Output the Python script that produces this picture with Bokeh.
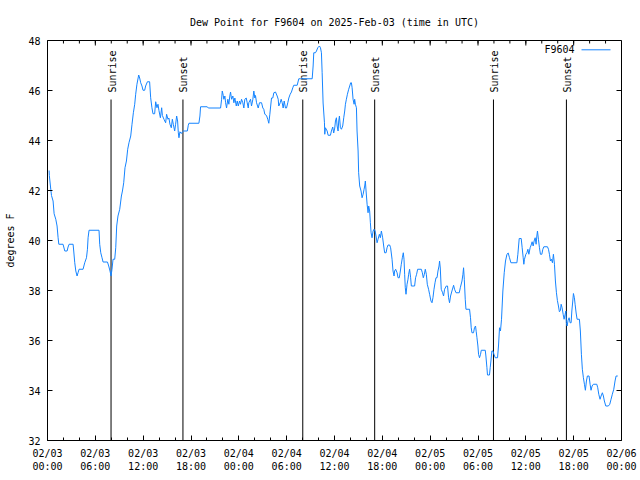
import math
from bokeh.plotting import figure
from bokeh.models import Range1d, FixedTicker, LinearAxis, Label
from bokeh.core.properties import value
from bokeh.embed import file_html
from bokeh.resources import INLINE

# ---------------- data ----------------
title_text = "Dew Point for F9604 on 2025-Feb-03 (time in UTC)"
series_name = "F9604"
y_label = "degrees F"

# hours since 2025-02-03 00:00 UTC
hours = [
    0.20, 0.23, 0.41, 0.50, 0.70, 0.83, 1.04, 1.20, 1.33, 1.42, 1.95, 2.04, 2.17, 2.46, 2.58, 2.71,
    3.21, 3.29, 3.42, 3.55, 3.71, 3.83, 3.96, 4.46, 4.67, 4.89, 5.01, 5.09, 5.21, 6.46, 6.55, 6.68,
    6.84, 6.97, 7.52, 7.68, 7.84, 7.97, 8.09, 8.22, 8.43, 8.56, 8.68, 8.84, 9.06, 9.27, 9.40, 9.56,
    9.72, 9.90, 10.06, 10.22, 10.44, 10.60, 10.77, 10.94, 11.06, 11.22, 11.44, 11.56, 11.69, 11.85,
    11.98, 12.19, 12.31, 12.53, 12.81, 12.94, 13.10, 13.23, 13.44, 13.57, 13.73, 13.86, 13.98, 14.16,
    14.19, 14.32, 14.41, 14.61, 14.82, 14.94, 15.11, 15.23, 15.36, 15.53, 15.66, 15.78, 15.95, 16.07,
    16.20, 16.32, 16.41, 16.49, 16.61, 16.79, 16.91, 17.04, 17.54, 17.66, 17.74, 18.99, 19.12, 19.20,
    20.04, 20.17, 21.71, 21.84, 21.92, 22.05, 22.12, 22.25, 22.34, 22.46, 22.62, 22.75, 22.87, 22.96,
    23.09, 23.25, 23.38, 23.50, 23.68, 23.80, 23.93, 24.09, 24.21, 24.34, 24.50, 24.63, 24.75, 24.93,
    25.05, 25.18, 25.25, 25.47, 25.59, 25.76, 25.88, 26.01, 26.09, 26.22, 26.43, 26.59, 26.85, 27.01,
    27.13, 27.26, 27.47, 27.63, 27.76, 27.89, 27.97, 28.10, 28.26, 28.39, 28.60, 28.81, 28.94, 29.01,
    29.19, 29.31, 29.44, 29.56, 29.69, 29.85, 29.98, 30.14, 30.27, 30.44, 30.60, 30.77, 30.89, 31.32,
    31.52, 31.73, 33.20, 33.32, 33.40, 33.61, 33.74, 33.90, 34.11, 34.24, 34.36, 34.45, 34.57, 34.74,
    34.78, 34.86, 35.08, 35.20, 35.49, 35.61, 35.78, 35.90, 36.03, 36.12, 36.24, 36.33, 36.45, 36.53,
    36.62, 36.74, 36.87, 37.03, 37.16, 37.28, 37.37, 37.49, 37.62, 37.78, 37.91, 38.03, 38.12, 38.21,
    38.33, 38.46, 38.53, 38.62, 38.75, 38.83, 38.96, 39.03, 39.16, 39.33, 39.46, 39.59, 39.71, 39.79,
    39.87, 39.96, 40.09, 40.21, 40.29, 40.41, 40.50, 40.59, 40.71, 40.84, 40.96, 41.09, 41.21, 41.34,
    41.46, 41.63, 41.75, 41.88, 42.04, 42.17, 42.29, 42.47, 42.59, 42.72, 42.92, 43.04, 43.22, 43.34,
    43.47, 43.54, 43.67, 43.85, 43.97, 44.13, 44.26, 44.38, 44.51, 44.63, 44.72, 44.80, 44.88, 44.97,
    45.10, 45.22, 45.30, 45.42, 45.55, 45.64, 46.05, 46.17, 46.30, 46.43, 46.89, 47.02, 47.14, 47.27,
    47.39, 47.52, 47.64, 47.80, 47.93, 48.10, 48.23, 48.35, 48.48, 48.61, 48.73, 48.86, 48.98, 49.11,
    49.18, 49.27, 49.39, 49.56, 49.68, 49.81, 50.02, 50.18, 50.31, 50.43, 50.56, 50.73, 50.94, 51.06,
    51.24, 51.65, 51.78, 51.99, 52.11, 52.19, 52.28, 52.40, 52.49, 52.94, 53.06, 53.15, 53.24, 53.44,
    53.56, 53.69, 53.78, 53.87, 53.99, 54.07, 54.19, 54.32, 54.41, 54.91, 54.99, 55.12, 55.19, 55.44,
    55.53, 55.62, 55.74, 55.87, 56.00, 56.16, 56.45, 56.57, 56.70, 56.82, 56.95, 57.12, 57.29, 57.45,
    57.63, 57.79, 57.95, 58.13, 58.88, 59.00, 59.17, 59.42, 59.54, 59.67, 59.75, 59.83, 60.00, 60.13,
    60.26, 60.38, 60.54, 60.67, 60.79, 60.92, 61.04, 61.17, 61.29, 61.38, 61.46, 61.58, 61.71, 61.83,
    62.01, 62.13, 62.26, 62.71, 62.84, 62.96, 63.09, 63.21, 63.34, 63.46, 63.59, 63.71, 63.84, 63.96,
    64.09, 64.21, 64.34, 64.43, 64.55, 64.68, 64.80, 64.93, 65.02, 65.09, 65.18, 65.30, 65.43, 65.55,
    65.68, 65.77, 65.89, 65.97, 66.09, 66.18, 66.31, 66.43, 66.72, 66.84, 66.97, 67.09, 67.22, 67.35,
    67.47, 67.60, 67.72, 67.93, 68.06, 68.18, 68.31, 68.47, 68.90, 69.02, 69.15, 69.31, 69.44, 69.60,
    69.73, 69.85, 70.03, 70.35, 70.53, 70.69, 70.85, 71.03, 71.19, 71.32, 71.53,
]

dew_point_f = [
    42.80, 42.60, 42.05, 41.80, 41.58, 41.07, 40.85, 40.58, 40.11, 39.85, 39.85, 39.74, 39.58, 39.58, 39.74, 39.85,
    39.85, 39.58, 39.11, 38.78, 38.58, 38.71, 38.85, 38.85, 39.11, 39.31, 39.65, 40.11, 40.41, 40.41, 39.85, 39.51,
    39.31, 39.14, 39.14, 38.98, 38.78, 38.58, 38.85, 39.25, 39.25, 39.71, 40.58, 40.98, 41.25, 41.78, 41.98, 42.31,
    42.91, 43.18, 43.65, 43.91, 44.18, 44.65, 45.11, 45.45, 45.85, 46.25, 46.62, 46.50, 46.31, 46.18,
    46.01, 46.01, 46.18, 46.35, 46.35, 45.71, 45.31, 45.07, 45.07, 45.55, 45.31, 45.45, 45.20, 44.91,
    44.98, 45.31, 45.00, 44.85, 44.71, 45.05, 44.85, 44.90, 44.65, 44.51, 44.85, 44.65, 44.38, 44.65,
    44.98, 44.78, 44.31, 44.11, 44.35, 44.28, 44.34, 44.38, 44.38, 44.61, 44.69, 44.69, 44.98, 45.35,
    45.35, 45.30, 45.30, 45.65, 45.98, 45.80, 45.65, 45.78, 45.51, 45.30, 45.65, 45.45, 45.78, 45.94,
    45.65, 45.78, 45.51, 45.70, 45.38, 45.58, 45.38, 45.58, 45.45, 45.65, 45.51, 45.30, 45.65, 45.70,
    45.51, 45.30, 45.51, 45.65, 45.38, 45.65, 45.98, 45.70, 45.80, 45.51, 45.30, 45.51, 45.51, 45.30,
    45.25, 45.05, 45.00, 44.85, 44.69, 45.05, 45.30, 45.70, 45.70, 45.91, 45.94, 45.78, 45.65, 45.38,
    45.51, 45.65, 45.51, 45.30, 45.58, 45.30, 45.30, 45.51, 45.70, 45.85, 45.94, 46.11, 46.21, 46.21,
    46.47, 46.47, 46.47, 46.98, 47.51, 47.51, 47.58, 47.71, 47.78, 47.71, 47.51, 46.71, 45.50, 44.71,
    44.25, 44.51, 44.38, 44.21, 44.21, 44.38, 44.54, 44.30, 44.50, 44.78, 44.91, 44.58, 44.38, 44.78,
    44.98, 44.51, 44.45, 44.58, 44.91, 45.18, 45.45, 45.65, 45.85, 46.05, 46.18, 46.31, 46.31, 46.11,
    45.65, 45.45, 45.65, 45.45, 45.31, 44.38, 43.58, 42.71, 42.18, 41.98, 41.71, 41.85, 42.05, 42.18,
    42.38, 41.98, 41.45, 41.11, 41.38, 41.18, 40.71, 40.31, 40.11, 40.38, 40.45, 40.38, 40.18, 39.91,
    40.05, 40.25, 40.11, 40.38, 40.11, 39.78, 39.51, 39.51, 39.71, 39.82, 39.82, 39.71, 39.25, 38.78,
    38.58, 38.78, 38.85, 38.71, 38.51, 38.51, 38.78, 39.05, 39.31, 39.51, 39.25, 38.65, 38.11, 37.85,
    38.25, 38.45, 38.65, 38.85, 38.51, 38.18, 38.18, 38.51, 38.65, 38.85, 38.85, 38.71, 38.51, 38.65,
    38.85, 38.65, 38.25, 38.05, 37.85, 37.58, 37.51, 37.71, 38.05, 38.31, 38.51, 38.51, 38.78, 38.98,
    39.18, 38.90, 38.05, 37.91, 37.78, 38.05, 38.18, 38.18, 37.71, 37.51, 37.78, 37.98, 38.21, 38.05,
    37.91, 37.91, 38.11, 38.38, 38.65, 38.91, 38.45, 37.65, 37.25, 37.25, 36.91, 36.51, 36.31, 36.31,
    36.51, 36.58, 36.35, 36.11, 35.78, 35.45, 35.31, 35.45, 35.61, 35.61, 35.38, 34.91, 34.62, 34.62,
    34.91, 35.18, 35.58, 35.58, 35.45, 35.31, 35.31, 35.78, 36.51, 36.38, 36.85, 37.98, 38.71, 39.18,
    39.45, 39.50, 39.31, 39.11, 39.11, 39.45, 40.08, 40.08, 39.71, 39.31, 39.05, 39.25, 39.45, 39.51,
    39.65, 39.45, 39.71, 39.82, 39.95, 39.78, 39.98, 40.11, 39.85, 40.18, 40.38, 40.05, 39.71, 39.45,
    39.45, 39.65, 39.75, 39.75, 39.65, 39.45, 39.18, 39.25, 39.11, 39.45, 39.05, 38.38, 37.91, 37.60,
    37.38, 37.15, 37.20, 37.45, 37.31, 37.05, 36.85, 37.05, 37.18, 36.71, 36.58, 36.81, 36.91, 36.71,
    36.71, 37.18, 37.58, 37.88, 37.71, 37.45, 37.10, 36.85, 36.85, 36.38, 35.45, 34.85, 34.51, 34.25,
    34.01, 34.38, 34.58, 34.58, 34.25, 34.01, 34.18, 34.25, 34.25, 34.11, 33.85, 33.65, 33.78, 33.91,
    33.78, 33.58, 33.38, 33.38, 33.45, 33.65, 33.85, 34.05, 34.38, 34.58, 34.58,
]

event_hours = [7.97, 16.99, 32.02, 41.04, 55.94, 65.09]
event_names = ["Sunrise", "Sunset", "Sunrise", "Sunset", "Sunrise", "Sunset"]

x_ticks = [0, 6, 12, 18, 24, 30, 36, 42, 48, 54, 60, 66, 72]
x_tick_labels = [
    "02/03\n00:00", "02/03\n06:00", "02/03\n12:00", "02/03\n18:00",
    "02/04\n00:00", "02/04\n06:00", "02/04\n12:00", "02/04\n18:00",
    "02/05\n00:00", "02/05\n06:00", "02/05\n12:00", "02/05\n18:00",
    "02/06\n00:00",
]
x_minor_ticks = [0, 2, 4, 6, 8, 10, 12, 14, 16, 18, 20, 22, 24, 26, 28, 30, 32, 34, 36,
                 38, 40, 42, 44, 46, 48, 50, 52, 54, 56, 58, 60, 62, 64, 66, 68, 70, 72]
y_ticks = [32, 34, 36, 38, 40, 42, 44, 46, 48]

# ---------------- style ----------------
FONT = "DejaVu Sans Mono"
FS = "10px"
BLUE = "#1584ff"
X0, X1 = 0, 72
Y0, Y1 = 32, 48
W, H = 640, 480
BL, BR, BT, BB = 47, 19, 40, 40
FW, FH = W - BL - BR, H - BT - BB
EVENT_TOP = 45.64
MAJ, MIN = 5, 3  # tick lengths in px


def sx2data(px):
    return X0 + (px - BL) / FW * (X1 - X0)


def sy2data(py):
    return Y1 - (py - BT) / FH * (Y1 - Y0)


p = figure(width=W, height=H, output_backend="svg", toolbar_location=None, title=title_text,
           x_range=Range1d(X0, X1), y_range=Range1d(Y0, Y1),
           min_border_left=BL, min_border_right=BR, min_border_top=BT, min_border_bottom=BB,
           x_axis_type=None, y_axis_type=None)
p.background_fill_color = "white"
p.border_fill_color = "white"
p.outline_line_color = "black"
p.outline_line_width = 1
p.outline_line_alpha = 1.0
p.xgrid.visible = False
p.ygrid.visible = False

p.title.align = "center"
p.title.text_font = FONT
p.title.text_font_size = FS
p.title.text_font_style = "normal"
p.title.text_color = "black"
p.title.standoff = 25


def style_axis(ax):
    ax.axis_line_color = None
    ax.major_tick_in = MAJ
    ax.major_tick_out = 0
    ax.minor_tick_in = MIN
    ax.minor_tick_out = 0
    ax.major_tick_line_color = "black"
    ax.minor_tick_line_color = "black"
    ax.major_label_text_font = FONT
    ax.major_label_text_font_size = FS
    ax.major_label_text_color = "black"
    ax.major_label_standoff = 7


xb = LinearAxis(ticker=FixedTicker(ticks=x_ticks, minor_ticks=x_minor_ticks))
style_axis(xb)
xb.major_label_overrides = {t: lbl for t, lbl in zip(x_ticks, x_tick_labels)}
p.add_layout(xb, "below")

yl = LinearAxis(ticker=FixedTicker(ticks=y_ticks, minor_ticks=[]))
style_axis(yl)
yl.major_label_overrides = {t: str(t) for t in y_ticks}
yl.axis_label = y_label
yl.axis_label_text_font = FONT
yl.axis_label_text_font_size = FS
yl.axis_label_text_font_style = "normal"
yl.axis_label_text_color = "black"
yl.axis_label_standoff = 9
p.add_layout(yl, "left")

# mirrored ticks on the top and right frame edges
top_major_len = Y1 - sy2data(BT + MAJ)
top_minor_len = Y1 - sy2data(BT + MIN)
p.segment(x0=x_ticks, y0=[Y1] * len(x_ticks), x1=x_ticks,
          y1=[Y1 - top_major_len] * len(x_ticks), line_color="black", line_width=1)
p.segment(x0=x_minor_ticks, y0=[Y1] * len(x_minor_ticks), x1=x_minor_ticks,
          y1=[Y1 - top_minor_len] * len(x_minor_ticks), line_color="black", line_width=1)
right_len = X1 - sx2data(W - BR - MAJ)
p.segment(x0=[X1] * len(y_ticks), y0=y_ticks, x1=[X1 - right_len] * len(y_ticks),
          y1=y_ticks, line_color="black", line_width=1)

# sunrise / sunset markers
p.segment(x0=event_hours, y0=[Y0] * len(event_hours), x1=event_hours,
          y1=[EVENT_TOP] * len(event_hours), line_color="black", line_width=1)
p.text(x=event_hours, y=[EVENT_TOP] * len(event_hours), text=event_names,
       angle=math.pi / 2, text_align="left", text_baseline="middle",
       x_offset=1, y_offset=-7,
       text_font=value(FONT), text_font_size=value(FS), text_color="black")

# data line
p.line(hours, dew_point_f, line_color=BLUE, line_width=1)

# key (text left of sample line, as in the reference)
p.add_layout(Label(x=sx2data(574), y=sy2data(49.3), text=series_name,
                   text_align="right", text_baseline="middle",
                   text_font=FONT, text_font_size=FS, text_color="black"))
p.line([sx2data(581), sx2data(610)], [sy2data(49.3)] * 2, line_color=BLUE, line_width=1)

open("out.html", "w").write(file_html(p, INLINE))
